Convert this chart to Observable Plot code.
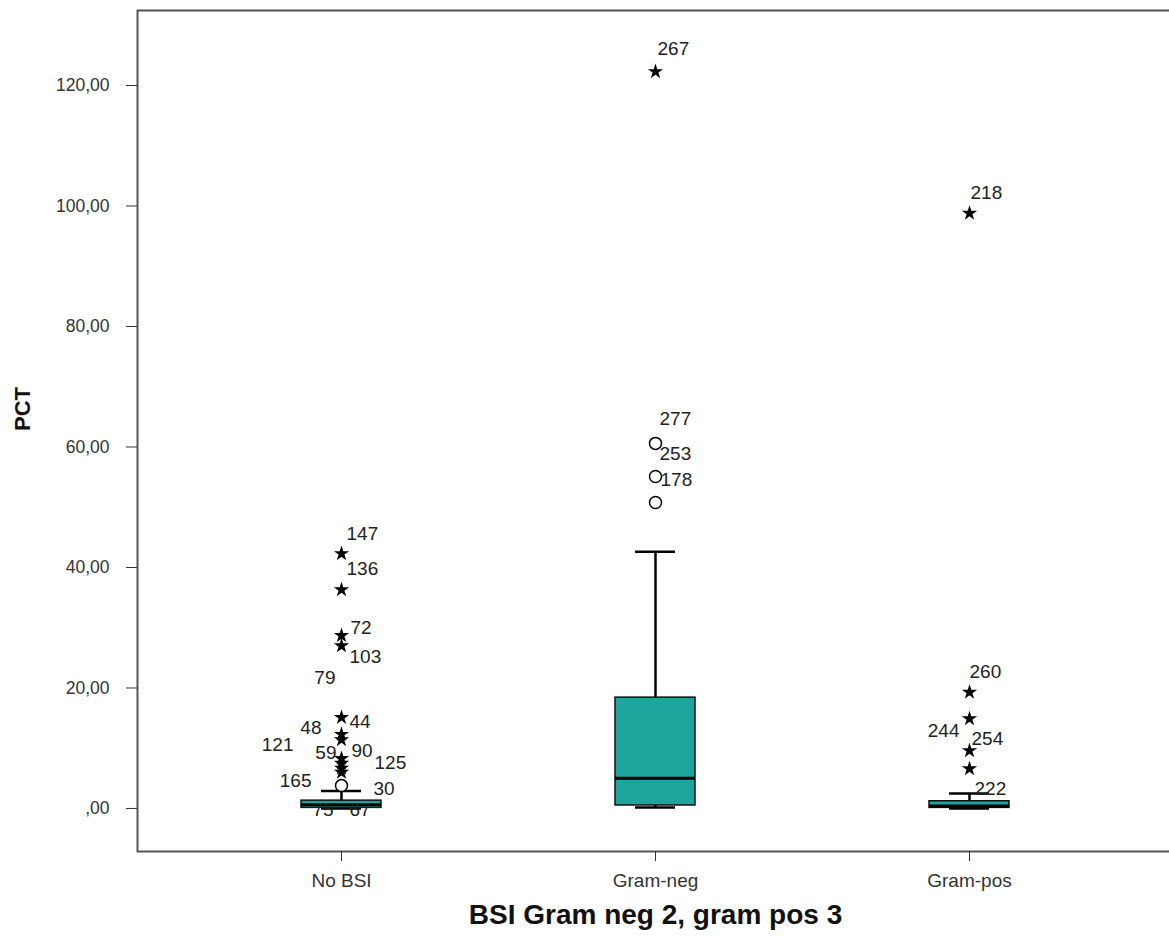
<!DOCTYPE html>
<html>
<head>
<meta charset="utf-8">
<script src="https://cdn.jsdelivr.net/npm/d3@7"></script>
<script src="https://cdn.jsdelivr.net/npm/@observablehq/plot@0.6"></script>
<style>
  html, body { margin: 0; padding: 0; background: #fff; overflow: hidden; }
  #chart svg { display: block; max-width: none !important; }
</style>
</head>
<body>
<div id="chart"></div>
<script>
// ---- data ----
const categories = ["No BSI", "Gram-neg", "Gram-pos"];
const q1 = [0.1, 0.5, 0.1];
const median = [0.6, 5.0, 0.4];
const q3 = [1.3, 18.4, 1.2];
const whiskerLow = [0.0, 0.15, 0.0];
const whiskerHigh = [2.9, 42.6, 2.5];

// outliers: extreme (star) and mild (circle)
const starCat = ["No BSI","No BSI","No BSI","No BSI","No BSI","No BSI","No BSI","No BSI","No BSI","No BSI","No BSI",
                 "Gram-neg",
                 "Gram-pos","Gram-pos","Gram-pos","Gram-pos","Gram-pos"];
const starValue = [42.3, 36.3, 28.7, 27.0, 15.1, 12.3, 11.4, 8.3, 7.5, 6.7, 6.0,
                   122.3,
                   98.8, 19.3, 14.9, 9.6, 6.6];
const circleCat = ["No BSI", "Gram-neg", "Gram-neg", "Gram-neg"];
const circleValue = [3.8, 60.6, 55.1, 50.8];

// case-number labels
const labelText  = ["147","136","72","103","79","44","48","121","59","90","125","165","30","75","67",
                    "267","277","253","178",
                    "218","260","244","254","222"];
const labelCat   = ["No BSI","No BSI","No BSI","No BSI","No BSI","No BSI","No BSI","No BSI","No BSI","No BSI","No BSI","No BSI","No BSI","No BSI","No BSI",
                    "Gram-neg","Gram-neg","Gram-neg","Gram-neg",
                    "Gram-pos","Gram-pos","Gram-pos","Gram-pos","Gram-pos"];
const labelValue = [45.6, 39.8, 30.0, 25.2, 21.7, 14.4, 13.4, 10.5, 9.3, 9.6, 7.6, 4.5, 3.2, -0.3, -0.3,
                    126.1, 64.6, 58.9, 54.6,
                    102.2, 22.7, 12.9, 11.6, 3.3];
const yTicks = [0, 20, 40, 60, 80, 100, 120];

// ---- layout for labels (pixel nudges, not data) ----
const labelLayout = {
  "147": [5, "start"], "136": [5, "start"], "72": [9, "start"], "103": [8, "start"],
  "79": [-6, "end"], "44": [8, "start"], "48": [-20, "end"], "121": [-48, "end"],
  "59": [-5, "end"], "90": [10, "start"], "125": [33, "start"], "165": [-30, "end"],
  "30": [32, "start"], "75": [-29, "start"], "67": [8, "start"],
  "267": [2, "start"], "277": [4, "start"], "253": [4, "start"], "178": [5, "start"],
  "218": [1, "start"], "260": [0, "start"], "244": [-10, "end"], "254": [2, "start"], "222": [5, "start"]
};

const boxes = categories.map((c, i) => ({cat: c, q1: q1[i], med: median[i], q3: q3[i], lo: whiskerLow[i], hi: whiskerHigh[i]}));
const stars = starCat.map((c, i) => ({cat: c, v: starValue[i]}));
const circles = circleCat.map((c, i) => ({cat: c, v: circleValue[i]}));
const labels = labelText.map((t, i) => ({text: t, cat: labelCat[i], v: labelValue[i]}));

const teal = "#1ca59d";
const font = "'Liberation Sans', Arial, sans-serif";

const labelMarks = labels.map(l => Plot.text([l], {
  x: "cat", y: "v", text: "text",
  dx: labelLayout[l.text][0], textAnchor: labelLayout[l.text][1],
  fontSize: 19, fill: "#222", fontFamily: font
}));

const chart = Plot.plot({
  width: 1175,
  height: 941,
  marginLeft: 137,
  marginRight: 2,
  marginTop: 10,
  marginBottom: 90,
  style: {fontFamily: font, background: "#fff"},
  x: {type: "band", domain: categories, paddingInner: 0.745, paddingOuter: 0.522, label: null},
  y: {domain: [-7.14, 132.45], label: null},
  marks: [
    Plot.frame({stroke: "#555", strokeWidth: 2}),
    Plot.axisY({ticks: yTicks, tickSize: 11, tickPadding: 17, fontSize: 17.5, stroke: "#333", fill: "#333",
                tickFormat: d => d === 0 ? ",00" : d + ",00", label: null}),
    Plot.axisX({tickSize: 10, tickPadding: 12, fontSize: 19, stroke: "#333", fill: "#333", label: null}),
    // whiskers
    Plot.ruleX(boxes, {x: "cat", y1: "lo", y2: "hi", stroke: "#000", strokeWidth: 2.5}),
    Plot.tickY(boxes, {x: "cat", y: "hi", stroke: "#000", strokeWidth: 2.5, inset: 20}),
    Plot.tickY(boxes, {x: "cat", y: "lo", stroke: "#000", strokeWidth: 2.5, inset: 20}),
    // boxes
    Plot.barY(boxes, {x: "cat", y1: "q1", y2: "q3", fill: teal, stroke: "#111", strokeWidth: 1.5}),
    Plot.tickY(boxes, {x: "cat", y: "med", stroke: "#000", strokeWidth: 3}),
    // outliers
    Plot.dot(circles, {x: "cat", y: "v", r: 6, stroke: "#000", strokeWidth: 1.5, fill: "#fff"}),
    Plot.dot(stars, {x: "cat", y: "v", symbol: "star", r: 4.8, fill: "#000"}),
    ...labelMarks,
    // titles
    Plot.text(["PCT"], {frameAnchor: "left", dx: -115, rotate: -90, fontSize: 22, fontWeight: "bold", fill: "#111", fontFamily: font}),
    Plot.text(["BSI Gram neg 2, gram pos 3"], {frameAnchor: "bottom", dx: 0, dy: 72, fontSize: 28, fontWeight: "bold", fill: "#111", fontFamily: font})
  ]
});
document.getElementById("chart").appendChild(chart);
</script>
</body>
</html>
